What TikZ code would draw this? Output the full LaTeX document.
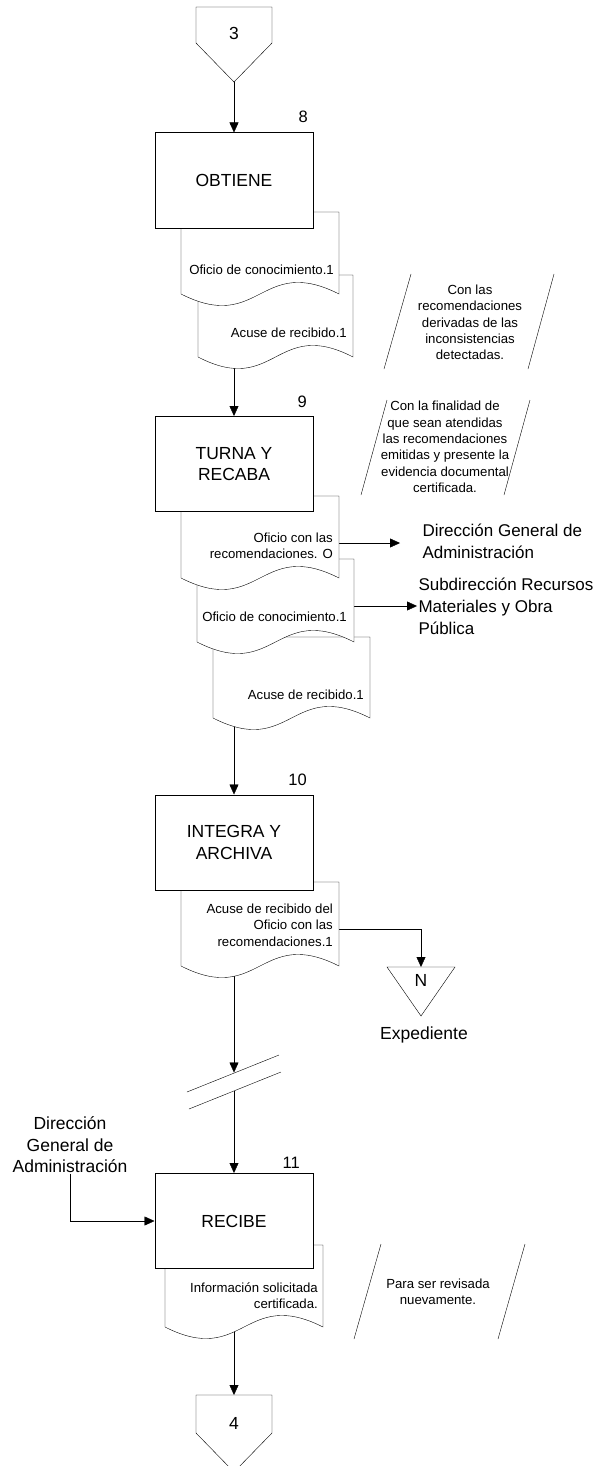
\documentclass[tikz,border=0pt]{standalone}
\usepackage{fontspec}
\setmainfont{Liberation Sans}
\usetikzlibrary{arrows.meta}
\pgfdeclarelayer{bg}
\pgfdeclarelayer{docs}
\pgfsetlayers{bg,docs,main}
\newcommand\fsmall{\fontsize{13.2}{16.3}\selectfont}
\newcommand\fbig{\fontsize{17.5}{21.5}\selectfont}
\newcommand\fside{\fontsize{17}{22}\selectfont}
\newcommand\fnum{\fontsize{16.5}{20}\selectfont}
\newcommand\docpath[4]{% xl, xr, top, yb
  \pgfmathsetmacro\dmid{(#1+#2)/2}
  \path[doc] (#1,#3) -- (#2,#3) -- (#2,#4) .. controls (\dmid,#4-40) and (\dmid,#4+40) .. (#1,#4) -- cycle;
}
\begin{document}
\begin{tikzpicture}[x=1pt,y=-1pt,line width=1pt,
  arr/.style={-{Triangle[length=10pt,width=9pt]}},
  box/.style={draw, fill=white, minimum width=158pt, minimum height=95pt, inner sep=0pt, font=\fbig, align=center},
  doc/.style={draw, fill=white},
  doctext/.style={font=\fsmall, align=right, anchor=east, inner sep=0pt},
  note/.style={font=\fsmall, align=center, inner sep=0pt},
  lbl/.style={font=\fbig, inner sep=0pt, align=center},
  sidelbl/.style={font=\fside, inner sep=0pt, align=left, anchor=west},
  num/.style={font=\fnum, inner sep=0pt, anchor=east},
  shp/.style={draw, fill=white}]
\useasboundingbox (0,0) rectangle (601,1466);
\clip (0,0) rectangle (601,1466);

% ---------- named coordinates ----------
\coordinate (c3tip) at (234,82);
\coordinate (d2b) at (234,357);
\coordinate (d3r) at (339,543);
\coordinate (dgaArrow) at (400,543);
\coordinate (d4r) at (354,606);
\coordinate (srmArrow) at (417,606);
\coordinate (d5b) at (234,718);
\coordinate (d6r) at (339,929);
\coordinate (d6b) at (234,966);
\coordinate (ntop) at (421,967);
\coordinate (brk1) at (234,1072.5);
\coordinate (brk2) at (234,1090.5);
\coordinate (d7b) at (234,1327);
\coordinate (c4top) at (234,1395);

% ---------- process boxes ----------
\node[box] (b8) at (234,180.5) {OBTIENE};
\node[box] (b9) at (234,464) {TURNA Y\\RECABA};
\node[box] (b10) at (234,842.5) {INTEGRA Y\\ARCHIVA};
\node[box] (b11) at (234,1221) {RECIBE};

% ---------- side labels ----------
\node[sidelbl] (dga) at (422,541) {Dirección General de\\Administración};
\node[sidelbl] (srm) at (418,606) {Subdirección Recursos\\Materiales y Obra\\Pública};
\node[lbl] (dgaL) at (70,1145) {Dirección\\General de\\Administración};
\node[lbl] (exp) at (424,1035) {Expediente};

% ---------- connectors (behind documents) ----------
\begin{pgfonlayer}{bg}
\draw[arr] (c3tip) -- (b8.north);
\draw[arr] (d2b) -- (b9.north);
\draw[arr] (d5b) -- (b10.north);
\draw[arr] (d6b) -- (brk1);
\draw[arr] (brk2) -- (b11.north);
\draw[arr] (d7b) -- (c4top);
\draw[arr] (d3r) -- (dgaArrow);
\draw[arr] (d4r) -- (srmArrow);
\draw[arr] (d6r) -| (ntop);
\draw[arr] (dgaL.south) |- (b11.west);
\end{pgfonlayer}

% ---------- break symbol ----------
\draw (187,1092) -- (279,1055);
\draw (189,1109) -- (281,1072);

% ---------- documents ----------
\begin{pgfonlayer}{docs}
\docpath{198}{353}{275}{357}
\docpath{181}{339}{212}{294}
\docpath{213}{370}{637}{718}
\docpath{197}{354}{559}{642}
\docpath{181}{339}{496}{578}
\docpath{181}{339}{882}{966}
\docpath{165}{323}{1245}{1327}
\end{pgfonlayer}

% ---------- document texts ----------
\node[doctext] (t1) at (334,270) {Oficio de conocimiento.1};
\node[doctext] (t2) at (347,333) {Acuse de recibido.1};
\node[doctext] (t3) at (333,545.5) {Oficio con las\\recomendaciones. O};
\node[doctext] (t4) at (347,617) {Oficio de conocimiento.1};
\node[doctext] (t5) at (364,695) {Acuse de recibido.1};
\node[doctext] (t6) at (333,925) {Acuse de recibido del\\Oficio con las\\recomendaciones.1};
\node[doctext] (t7) at (318,1296) {Información solicitada\\certificada.};

% ---------- step numbers ----------
\node[num] (n8) at (308,117) {8};
\node[num] (n9) at (307,402) {9};
\node[num] (n10) at (307,780) {10};
\node[num] (n11) at (300,1163) {11};

% ---------- off-page connectors ----------
\path[shp] (196,7) -- (272,7) -- (272,43) -- (234,82) -- (196,43) -- cycle;
\node[lbl] (c3) at (234,33) {3};
\path[shp] (196,1395) -- (272,1395) -- (272,1433) -- (234,1472) -- (196,1433) -- cycle;
\node[lbl] (c4) at (234,1423) {4};

% ---------- archive triangle ----------
\path[shp] (387,967) -- (455,967) -- (421,1016) -- cycle;
\node[lbl] (nN) at (421,980) {N};

% ---------- annotations ----------
\draw (384,369) -- (411,274);
\draw (528,369) -- (554,274);
\node[note] (a1) at (470,322.5) {Con las\\recomendaciones\\derivadas de las\\inconsistencias\\detectadas.};
\draw (361,495) -- (387,400);
\draw (504,495) -- (530,400);
\node[note] (a2) at (445,447) {Con la finalidad de\\que sean atendidas\\las recomendaciones\\emitidas y presente la\\evidencia documental\\certificada.};
\draw (354,1339) -- (381,1244);
\draw (498,1339) -- (525,1244);
\node[note] (a3) at (438,1291.5) {Para ser revisada\\nuevamente.};
\end{tikzpicture}
\end{document}
